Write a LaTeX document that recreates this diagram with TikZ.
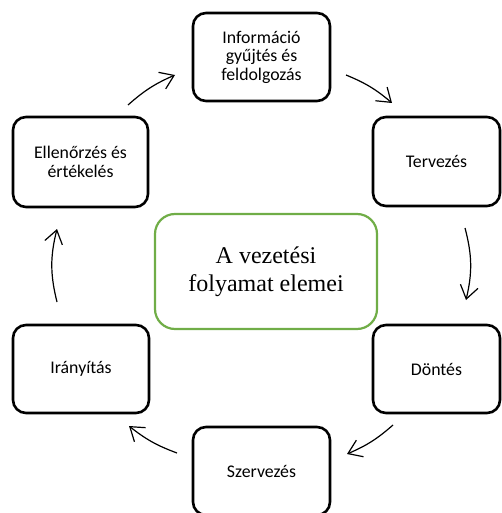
\documentclass[tikz,border=0pt]{standalone}
\usepackage{fontspec}
\setmainfont{Carlito}
\newfontfamily\timesf{Liberation Serif}
\usetikzlibrary{arrows.meta}
\begin{document}
\begin{tikzpicture}[x=1pt,y=-1pt,
  stepbox/.style={draw=black,line width=2.6pt,rounded corners=13pt,align=center,
    font=\fontsize{17.8}{18.5}\selectfont,inner sep=0pt},
  centerbox/.style={draw={rgb,255:red,112;green,173;blue,71},line width=2.2pt,rounded corners=20pt,
    align=center,font=\timesf\fontsize{24}{28}\selectfont,inner sep=0pt,
    minimum width=222pt,minimum height=115pt},
  flow/.style={line width=1.2pt,-{Straight Barb[length=13pt,width=18pt,line width=1.2pt]},bend left=9}]
\useasboundingbox (0,0) rectangle (501,513);
\node[stepbox,minimum width=137pt,minimum height=88pt] (info) at (261.5,57) {Információ\\gyűjtés és\\feldolgozás};
\node[stepbox,minimum width=127pt,minimum height=89pt] (terv) at (436.5,161.5) {Tervezés};
\node[stepbox,minimum width=127pt,minimum height=88pt] (dont) at (436.5,369) {Döntés};
\node[stepbox,minimum width=137pt,minimum height=88pt] (szerv) at (261.5,471) {Szervezés};
\node[stepbox,minimum width=136pt,minimum height=88pt] (iran) at (81,369) {Irányítás};
\node[stepbox,minimum width=135pt,minimum height=90pt] (ell) at (80.5,162) {Ellenőrzés és\\értékelés};
\node[centerbox] (center) at (266,271.5) {A vezetési\\folyamat elemei};
\coordinate (a1s) at (128,105); \coordinate (a1e) at (175,75);
\coordinate (a2s) at (346,75); \coordinate (a2e) at (392,103);
\coordinate (a3s) at (465,228); \coordinate (a3e) at (466,300);
\coordinate (a4s) at (393,425); \coordinate (a4e) at (347,454);
\coordinate (a5s) at (177,453); \coordinate (a5e) at (129,426);
\coordinate (a6s) at (57,302); \coordinate (a6e) at (57,229);
\draw[flow] (a1s) to (a1e);
\draw[flow] (a2s) to (a2e);
\draw[flow,bend left=14] (a3s) to (a3e);
\draw[flow] (a4s) to (a4e);
\draw[flow] (a5s) to (a5e);
\draw[flow,bend left=14] (a6s) to (a6e);
\end{tikzpicture}
\end{document}
